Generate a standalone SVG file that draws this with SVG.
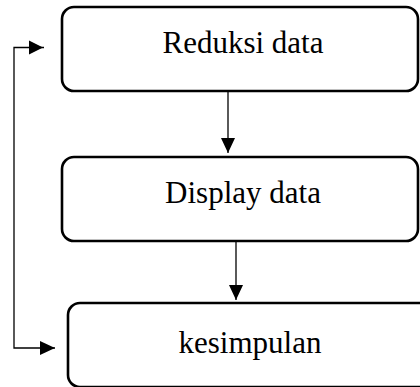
<svg xmlns="http://www.w3.org/2000/svg" width="420" height="387" viewBox="0 0 420 387">
<defs>
<marker id="ah" markerUnits="userSpaceOnUse" markerWidth="16" markerHeight="14" refX="15" refY="7" orient="auto">
<path d="M0,0 L15,7 L0,14 Z" fill="#000"/>
</marker>
<style>
.box{fill:#fff;stroke:#000;stroke-width:2.6}
.lbl{font-family:"Liberation Serif","Times New Roman",serif;font-size:31px;fill:#000;text-anchor:middle}
.con{fill:none;stroke:#000;stroke-width:1.3}
</style>
</defs>
<rect width="420" height="387" fill="#fff"/>
<g id="connectors">
<path class="con" d="M228,91 L228,153" marker-end="url(#ah)"/>
<path class="con" d="M236,241 L236,300" marker-end="url(#ah)"/>
<path class="con" d="M44,47.5 L14,47.5 L14,348 L55,348" marker-end="url(#ah)"/>
<path d="M43,47.5 L29,40.5 L29,54.5 Z" fill="#000"/>
</g>
<g id="reduksi">
<rect class="box" x="62" y="7" width="356" height="84" rx="12"/>
<text class="lbl" x="243" y="53">Reduksi data</text>
</g>
<g id="display">
<rect class="box" x="62" y="157" width="356" height="84" rx="12"/>
<text class="lbl" x="243" y="203">Display data</text>
</g>
<g id="kesimpulan">
<rect class="box" x="68" y="303" width="368" height="84" rx="12"/>
<text class="lbl" x="250" y="353">kesimpulan</text>
</g>
</svg>
